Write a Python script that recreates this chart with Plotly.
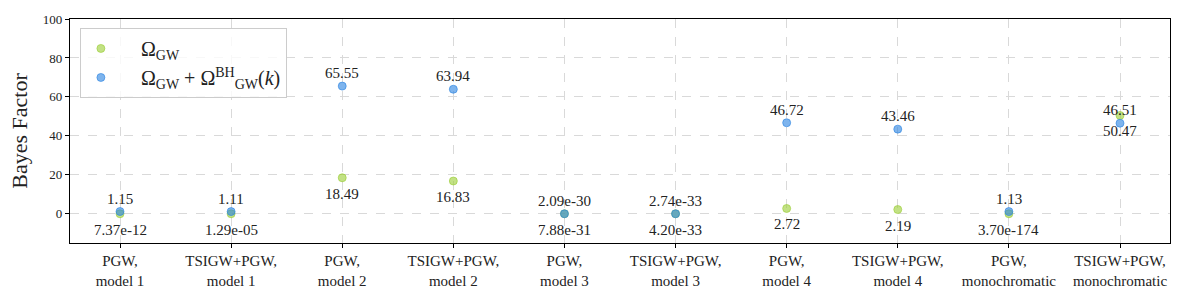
import plotly.graph_objects as go

categories = ["PGW,<br>model 1", "TSIGW+PGW,<br>model 1", "PGW,<br>model 2", "TSIGW+PGW,<br>model 2",
              "PGW,<br>model 3", "TSIGW+PGW,<br>model 3", "PGW,<br>model 4", "TSIGW+PGW,<br>model 4",
              "PGW,<br>monochromatic", "TSIGW+PGW,<br>monochromatic"]
green_vals = [7.37e-12, 1.29e-05, 18.49, 16.83, 7.88e-31, 4.20e-33, 2.72, 2.19, 3.70e-174, 50.47]
green_labels = ["7.37e-12", "1.29e-05", "18.49", "16.83", "7.88e-31", "4.20e-33", "2.72", "2.19", "3.70e-174", "50.47"]
blue_vals = [1.15, 1.11, 65.55, 63.94, 2.09e-30, 2.74e-33, 46.72, 43.46, 1.13, 46.51]
blue_labels = ["1.15", "1.11", "65.55", "63.94", "2.09e-30", "2.74e-33", "46.72", "43.46", "1.13", "46.51"]
y_ticks = [0, 20, 40, 60, 80, 100]

FONT = "Liberation Serif, DejaVu Serif, serif"
xs = list(range(len(categories)))

fig = go.Figure()
fig.add_trace(go.Scatter(
    x=xs, y=green_vals, mode="markers", name="&nbsp;&nbsp;&nbsp;&nbsp;Ω<sub>GW</sub>",
    marker=dict(size=8, color="rgba(154,205,50,0.6)", line=dict(width=1, color="rgba(154,205,50,0.6)")),
))
fig.add_trace(go.Scatter(
    x=xs, y=blue_vals, mode="markers",
    name="&nbsp;&nbsp;&nbsp;&nbsp;Ω<sub>GW</sub> + Ω<sup>BH</sup><sub>GW</sub>(<i>k</i>)",
    marker=dict(size=8, color="rgba(40,130,225,0.6)", line=dict(width=1, color="rgba(40,130,225,0.6)")),
))

annotations = []
for i in xs:
    annotations.append(dict(x=i, y=blue_vals[i], text=blue_labels[i], showarrow=False,
                            yshift=13, font=dict(family=FONT, size=15, color="#222")))
    annotations.append(dict(x=i, y=green_vals[i], text=green_labels[i], showarrow=False,
                            yshift=-16, font=dict(family=FONT, size=15, color="#222")))

fig.update_layout(
    width=1200, height=300,
    margin=dict(l=70, r=30, t=19, b=57),
    plot_bgcolor="white", paper_bgcolor="white",
    font=dict(family=FONT, size=14, color="#222"),
    annotations=annotations,
    showlegend=True,
    legend=dict(x=0.009, y=0.96, xanchor="left", yanchor="top",
                bgcolor="rgba(255,255,255,0.8)", bordercolor="#cccccc", borderwidth=1,
                font=dict(family=FONT, size=20), tracegroupgap=2),
)
fig.update_xaxes(
    range=[-0.45, 9.45], tickmode="array", tickvals=xs, ticktext=categories,
    showline=True, linecolor="black", linewidth=1.2, mirror=True,
    ticks="outside", ticklen=4, tickcolor="black",
    showgrid=True, gridcolor="#d9d9d9", griddash="dash", gridwidth=1,
    tickfont=dict(family=FONT, size=15), zeroline=False,
)
fig.update_yaxes(
    range=[-15, 100], tickmode="array", tickvals=y_ticks,
    showline=True, linecolor="black", linewidth=1.2, mirror=True,
    ticks="outside", ticklen=4, tickcolor="black",
    showgrid=True, gridcolor="#d9d9d9", griddash="dash", gridwidth=1,
    tickfont=dict(family=FONT, size=13), zeroline=False,
    title=dict(text="Bayes Factor", font=dict(family=FONT, size=22), standoff=9),
)

fig.write_html("out.html")
